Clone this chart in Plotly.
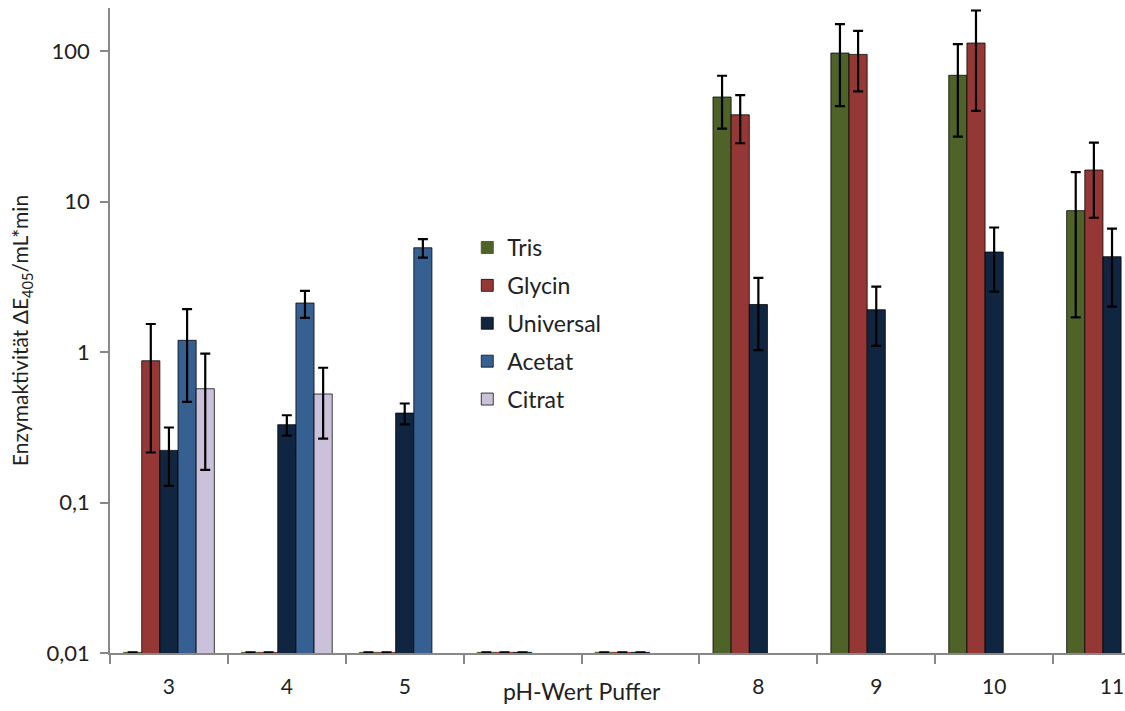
import plotly.graph_objects as go

# ---- data ----
categories = ["3", "4", "5", " ", "  ", "8", "9", "10", "11"]
series_names = ["Tris", "Glycin", "Universal", "Acetat", "Citrat"]

tris      = [0.0101, 0.0101, 0.0101, 0.0101, 0.0101, 49.5, 97.0, 69.0, 8.7]
glycin    = [0.875, 0.0101, 0.0101, 0.0101, 0.0101, 37.7, 95.0, 113.0, 16.2]
universal = [0.222, 0.329, 0.393, 0.0101, 0.0101, 2.07, 1.91, 4.62, 4.30]
acetat    = [1.196, 2.117, 4.93, None, None, None, None, None, None]
citrat    = [0.570, 0.526, None, None, None, None, None, None, None]

tris_err      = [0, 0, 0, 0, 0, 19.0, 54.0, 42.0, 7.0]
glycin_err    = [0.66, 0, 0, 0, 0, 13.3, 41.0, 73.0, 8.4]
universal_err = [0.093, 0.051, 0.062, 0, 0, 1.04, 0.81, 2.1, 2.3]
acetat_err    = [0.73, 0.43, 0.69, 0, 0, 0, 0, 0, 0]
citrat_err    = [0.405, 0.26, 0, 0, 0, 0, 0, 0, 0]

y_tick_vals = [0.01, 0.1, 1, 10, 100]
y_tick_text = ["0,01", "0,1", "1", "10", "100"]
group_label = "pH-Wert Puffer"
y_title = "Enzymaktivität ΔE<sub>405</sub>/mL*min"

colors = ["#4F6228", "#953735", "#10253F", "#376092", "#CCC1DA"]

values = [tris, glycin, universal, acetat, citrat]
errors = [tris_err, glycin_err, universal_err, acetat_err, citrat_err]

FONT = "Lato"

fig = go.Figure()
for name, vals, errs, col in zip(series_names, values, errors, colors):
    line_cols = [col if (v is not None and v < 0.0105) else "rgba(0,0,0,0.75)" for v in vals]
    fig.add_trace(go.Bar(
        x=categories, y=vals, name=name,
        marker=dict(color=col, line=dict(color=line_cols, width=1)),
        error_y=dict(type="data", array=errs, visible=True, color="black",
                     thickness=2.2, width=5),
        legendgroup=name,
    ))

fig.add_annotation(x=3.5, y=0, xref="x", yref="paper", yanchor="top",
                   yshift=-22, text=group_label, showarrow=False,
                   font=dict(family=FONT, size=23, color="#222"))

fig.update_layout(
    width=1125, height=711,
    margin=dict(l=110, r=0, t=8, b=58),
    plot_bgcolor="white", paper_bgcolor="white",
    barmode="group", bargap=0.23, bargroupgap=0,
    font=dict(family=FONT, size=22, color="#222"),
    showlegend=True,
    legend=dict(x=0.352, y=0.662, xanchor="left", yanchor="top",
                font=dict(family=FONT, size=23, color="#222"),
                tracegroupgap=5, bgcolor="rgba(0,0,0,0)",
                itemwidth=30),
    xaxis=dict(range=[-0.5, 8.11], tickson="boundaries", ticks="outside",
               ticklen=9, tickcolor="#888", tickwidth=1.5,
               showline=True, linecolor="#888", linewidth=1.5,
               showgrid=False, ticklabelstandoff=14,
               tickfont=dict(family=FONT, size=21, color="#222")),
    yaxis=dict(type="log", range=[-2, 2.286], tickvals=y_tick_vals,
               ticktext=y_tick_text, ticks="outside", ticklen=8,
               tickcolor="#888", tickwidth=1.5,
               showline=True, linecolor="#888", linewidth=1.5,
               showgrid=False, zeroline=False, ticklabelstandoff=6,
               tickfont=dict(family=FONT, size=22, color="#222"),
               title=dict(text=y_title, standoff=12,
                          font=dict(family=FONT, size=21, color="#222"))),
)

fig.write_html("out.html",
               config={"displayModeBar": False},
               post_script="document.body.style.margin='0';"
                           "document.body.style.overflow='hidden';")
